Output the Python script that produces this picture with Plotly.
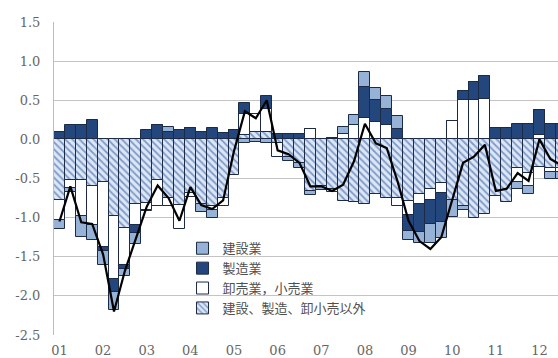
import plotly.graph_objects as go

# quarterly index 2001Q1 ...
year_labels = ["01", "02", "03", "04", "05", "06", "07", "08", "09", "10", "11", "12"]

# 建設、製造、卸小売以外 (hatched)
other = [-0.78, -0.52, -0.52, -0.60, -0.54, -0.98, -1.13, -0.82,
         -0.81, -0.52, -0.75, -0.84, -0.68, -0.83, -0.85, -0.75,
         -0.45, 0.06, 0.10, 0.10, -0.05, -0.22, -0.30, -0.66,
         -0.60, -0.64, -0.79, -0.80, -0.83, -0.70, -0.75, -0.75,
         -0.79, -0.70, -0.64, -0.56, -0.77, -0.85, -1.00, -0.95,
         -0.72, -0.80, -0.37, -0.43, -0.35, -0.37, -0.37]
# 卸売業，小売業 (white)
trade = [-0.25, -0.10, -0.46, -0.50, -0.84, -0.80, -0.47, -0.28,
         -0.09, -0.33, -0.10, -0.30, -0.05, 0.00, -0.05, -0.10,
         0.00, 0.27, 0.23, 0.29, -0.18, 0.00, 0.00, 0.13,
         0.00, -0.03, 0.07, 0.18, 0.27, 0.22, 0.19, -0.10,
         -0.17, -0.13, -0.13, -0.12, 0.23, 0.50, 0.50, 0.52,
         0.00, 0.00, -0.17, -0.17, 0.05, -0.05, -0.05]
# 製造業 (dark blue)
manuf = [0.10, 0.19, 0.18, 0.25, -0.05, -0.17, -0.06, -0.10,
         0.12, 0.19, 0.10, 0.12, 0.14, 0.10, 0.15, 0.08,
         0.12, 0.13, 0.00, 0.17, 0.07, 0.07, 0.07, 0.00,
         0.00, 0.02, 0.00, 0.00, 0.40, 0.28, 0.20, 0.13,
         -0.21, -0.35, -0.31, -0.38, 0.00, 0.12, 0.23, 0.29,
         0.15, 0.15, 0.20, 0.20, 0.32, 0.20, 0.20]
# 建設業 (light blue)
constr = [-0.12, -0.05, -0.27, -0.19, -0.18, -0.23, -0.09, -0.14,
          -0.02, 0.00, 0.06, 0.00, 0.00, -0.10, -0.10, 0.00,
          0.00, -0.05, -0.03, -0.04, 0.00, -0.05, -0.07, -0.05,
          -0.05, 0.00, 0.09, 0.13, 0.19, 0.16, 0.17, 0.17,
          -0.11, -0.15, -0.25, -0.20, -0.22, -0.05, 0.00, 0.00,
          0.00, 0.00, -0.10, -0.10, 0.00, -0.08, -0.08]
# total line
total = [-1.05, -0.60, -1.06, -1.08, -1.47, -2.20, -1.68, -1.27,
         -0.86, -0.59, -0.75, -1.04, -0.61, -0.84, -0.89, -0.78,
         -0.15, 0.36, 0.27, 0.50, -0.14, -0.19, -0.30, -0.60,
         -0.60, -0.66, -0.58, -0.28, 0.20, -0.05, -0.11, -0.54,
         -1.04, -1.30, -1.40, -1.25, -0.76, -0.30, -0.22, -0.07,
         -0.66, -0.63, -0.43, -0.53, 0.00, -0.25, -0.33]

x = list(range(len(total)))
outline = dict(color="#1c2a45", width=1)

fig = go.Figure()
fig.add_trace(go.Bar(x=x, y=other, name="建設、製造、卸小売以外",
                     marker=dict(color="#dbe5f1", line=outline,
                                 pattern=dict(shape="\\", bgcolor="#dde7f3", fgcolor="#7d9acb",
                                              size=5, solidity=0.35, fillmode="replace"))))
fig.add_trace(go.Bar(x=x, y=trade, name="卸売業，小売業",
                     marker=dict(color="#ffffff", line=outline)))
fig.add_trace(go.Bar(x=x, y=manuf, name="製造業",
                     marker=dict(color="#23467c", line=outline)))
fig.add_trace(go.Bar(x=x, y=constr, name="建設業",
                     marker=dict(color="#96b2d6", line=outline)))
fig.add_trace(go.Scatter(x=x, y=total, mode="lines", showlegend=False,
                         line=dict(color="#000000", width=2.2)))

yt = [-2.5, -2.0, -1.5, -1.0, -0.5, 0.0, 0.5, 1.0, 1.5]
fig.update_layout(
    width=558, height=358,
    margin=dict(l=54, r=0, t=22, b=21),
    paper_bgcolor="white", plot_bgcolor="white",
    barmode="relative", bargap=0,
    font=dict(family="Noto Sans CJK JP", color="#555555"),
    legend=dict(x=0.255, y=0.325, xanchor="left", yanchor="top",
                traceorder="reversed", bgcolor="rgba(0,0,0,0)",
                font=dict(size=13, color="#505050", family="Noto Sans CJK JP")),
    xaxis=dict(range=[-0.5, 45.7], tickvals=[0, 4, 8, 12, 16, 20, 24, 28, 32, 36, 40, 44],
               ticktext=year_labels, showgrid=False, zeroline=False, showline=False,
               ticklabelstandoff=6,
               tickfont=dict(family="DejaVu Serif", size=13, color="#666666")),
    yaxis=dict(range=[-2.5, 1.5], tickvals=yt, ticktext=[f"{v:.1f}" for v in yt],
               gridcolor="#c4c4c4", gridwidth=1, zeroline=False,
               showline=True, linecolor="#bdbdbd", linewidth=1,
               ticklabelstandoff=10,
               tickfont=dict(family="DejaVu Serif", size=13, color="#666666")),
)
fig.write_html("out.html")
